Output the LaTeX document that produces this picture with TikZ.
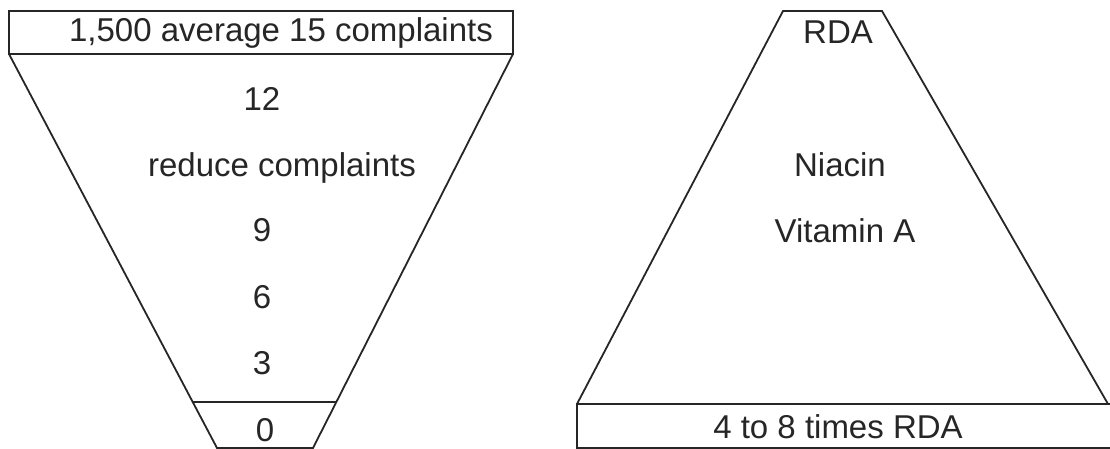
\documentclass[tikz,border=0pt]{standalone}
\usepackage{fontspec}
\setmainfont{Liberation Sans}
\begin{document}
\begin{tikzpicture}[x=1pt,y=-1pt,
  shapeline/.style={draw=black!85,line width=1.8pt,line join=miter},
  lbl/.style={font=\fontsize{33}{36}\selectfont,anchor=base,inner sep=0pt,text=black!85}]
\useasboundingbox[fill=white] (0,0) rectangle (1110,449);
\clip (0,0) rectangle (1110,449);
% ---------- left funnel ----------
\coordinate (rtl) at (9,11);
\coordinate (rbr) at (513,54);
\coordinate (ftl) at (9,54);
\coordinate (ftr) at (513,54);
\coordinate (fml) at (193,402);
\coordinate (fmr) at (336,402);
\coordinate (fbl) at (217,448);
\coordinate (fbr) at (313,448);
\draw[shapeline] (rtl) rectangle (rbr);
\draw[shapeline] (ftl) -- (fbl) -- (fbr) -- (ftr);
\draw[shapeline] (fml) -- (fmr);
\node[lbl] (t1500) at (281,42) {1,500 average 15 complaints};
\node[lbl] (t12) at (262,111) {12};
\node[lbl] (tred) at (282,176) {reduce complaints};
\node[lbl] (t9) at (262,241) {9};
\node[lbl] (t6) at (262,308) {6};
\node[lbl] (t3) at (262,374) {3};
\node[lbl] (t0) at (265,441) {0};
% ---------- right triangle ----------
\coordinate (ptl) at (783,11);
\coordinate (ptr) at (882,11);
\coordinate (pbl) at (577,404);
\coordinate (pbr) at (1108,404);
\coordinate (bbl) at (577,448);
\coordinate (bbr) at (1114,448);
\coordinate (bbx) at (1114,404);
\draw[shapeline] (pbl) -- (ptl) -- (ptr) -- (pbr);
\draw[shapeline] (bbx) -- (pbl) -- (bbl) -- (bbr);
\node[lbl] (trda) at (838,44) {RDA};
\node[lbl] (tnia) at (840,177) {Niacin};
\node[lbl] (tvit) at (845,242) {Vitamin A};
\node[lbl] (t48) at (838,438) {4 to 8 times RDA};
\end{tikzpicture}
\end{document}
